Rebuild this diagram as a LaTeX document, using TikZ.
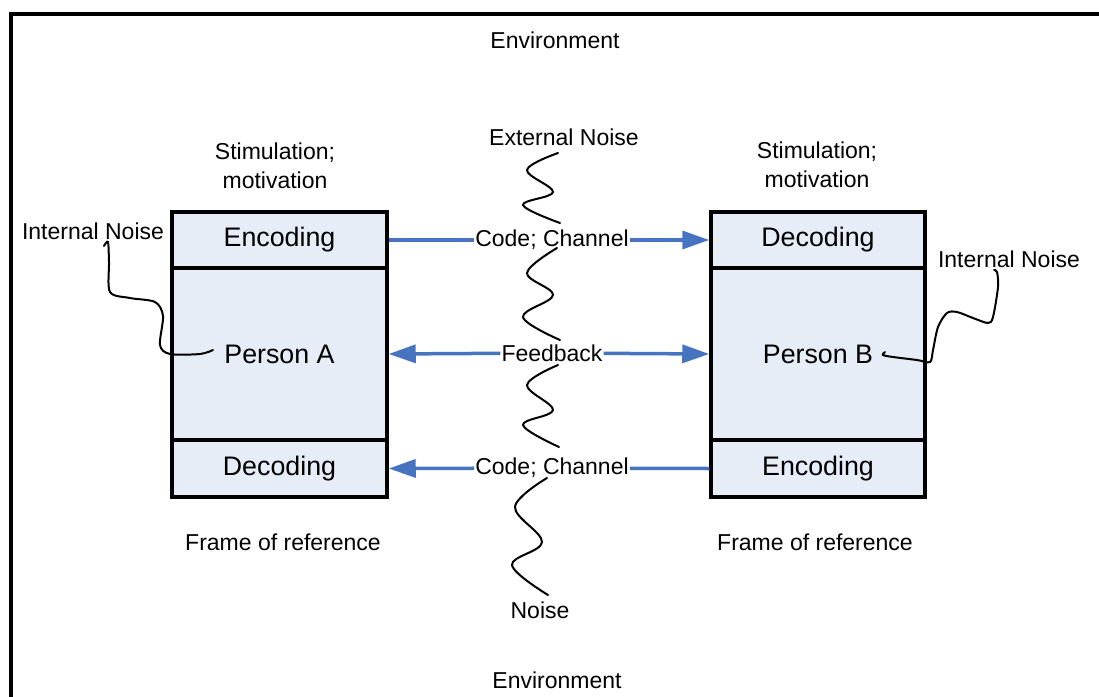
\documentclass[tikz,border=0pt]{standalone}
\usepackage{fontspec}
\setmainfont{Liberation Sans}
\usetikzlibrary{arrows.meta}
\definecolor{boxblue}{RGB}{230,237,247}
\definecolor{flowblue}{RGB}{70,116,193}
\newcommand{\boxfont}{\fontsize{26.8}{31}\selectfont}
\newcommand{\txtfont}{\fontsize{23}{29}\selectfont}

\begin{document}
\begin{tikzpicture}[x=1pt, y=-1pt,
    part/.style={draw, line width=3.5pt, fill=boxblue, minimum width=215pt, font=\boxfont, inner sep=0pt},
    txt/.style={font=\txtfont, inner sep=1pt, align=center},
    chan/.style={txt, fill=white},
    flow/.style={flowblue, line width=3.5pt},
    noise/.style={line width=2pt, line cap=round},
    >={Triangle[length=27pt,width=18pt]}
]
\useasboundingbox (0,0) rectangle (1099,696);
\clip (0,0) rectangle (1099,696);

% environment frame (runs off the page right and bottom)
\draw[line width=4pt] (11,14) rectangle (1120,720);

\node[txt] (envtop) at (555,40) {Environment};
\node[txt] (envbot) at (557,680) {Environment};

% person A
\node[part, minimum height=56pt] (encA) at (279.5,240) {Encoding};
\node[part, minimum height=172pt] (personA) at (279.5,354) {Person A};
\node[part, minimum height=57pt] (decA) at (279.5,468.5) {Decoding};

% person B
\node[part, minimum height=56pt, minimum width=214pt] (decB) at (818,240) {Decoding};
\node[part, minimum height=172pt, minimum width=214pt] (personB) at (818,354) {Person B};
\node[part, minimum height=57pt, minimum width=214pt] (encB) at (818,468.5) {Encoding};

\node[txt] (stimA) at (275,166) {Stimulation;\\motivation};
\node[txt] (stimB) at (817,165) {Stimulation;\\motivation};
\node[txt] (frameA) at (283,542) {Frame of reference};
\node[txt] (frameB) at (815,542) {Frame of reference};
\node[txt] (inA) at (93,231) {Internal Noise};
\node[txt] (inB) at (1009,259) {Internal Noise};
\node[txt] (extnoise) at (564,137) {External Noise};
\node[txt] (noise) at (540,610) {Noise};

% channels
\node[chan] (codeA) at (552,240) {Code; Channel};
\node[chan] (fb) at (552,353) {Feedback};
\node[chan] (codeB) at (552,468) {Code; Channel};

\draw[flow] (encA.east) -- (codeA);
\draw[flow, ->] (codeA) -- (decB.west);
\draw[flow, ->] (fb) -- (personA.east);
\draw[flow, ->] (fb) -- (personB.west);
\draw[flow] (encB.west) -- (codeB);
\draw[flow, ->] (codeB) -- (decA.east);

% noise squiggles
\draw[noise] plot[smooth, tension=0.6] coordinates {(558,153) (527,170) (553,192) (523,205) (560,223)};
\draw[noise] plot[smooth, tension=0.6] coordinates {(557,248) (527,273) (553,295) (523,317) (560,340)};
\draw[noise] plot[smooth, tension=0.6] coordinates {(558,365) (527,385) (553,410) (523,425) (559,447)};
\draw[noise] plot[smooth, tension=0.6] coordinates {(547,478) (515,507) (542,542) (512,565) (548,595)};
\draw[noise] plot[smooth, tension=0.5] coordinates {(104,246) (108,242) (109,262) (110,292) (130,298) (155,302) (163,316) (160,345) (170,354) (200,354) (213,350)};
\draw[noise] plot[smooth, tension=0.5] coordinates {(994,270) (997,272) (998,287) (993,317) (988,323) (973,318) (957,312) (947,313) (938,327) (933,350) (930,362) (917,360) (893,357) (883,355) (885,352)};

\end{tikzpicture}
\end{document}
